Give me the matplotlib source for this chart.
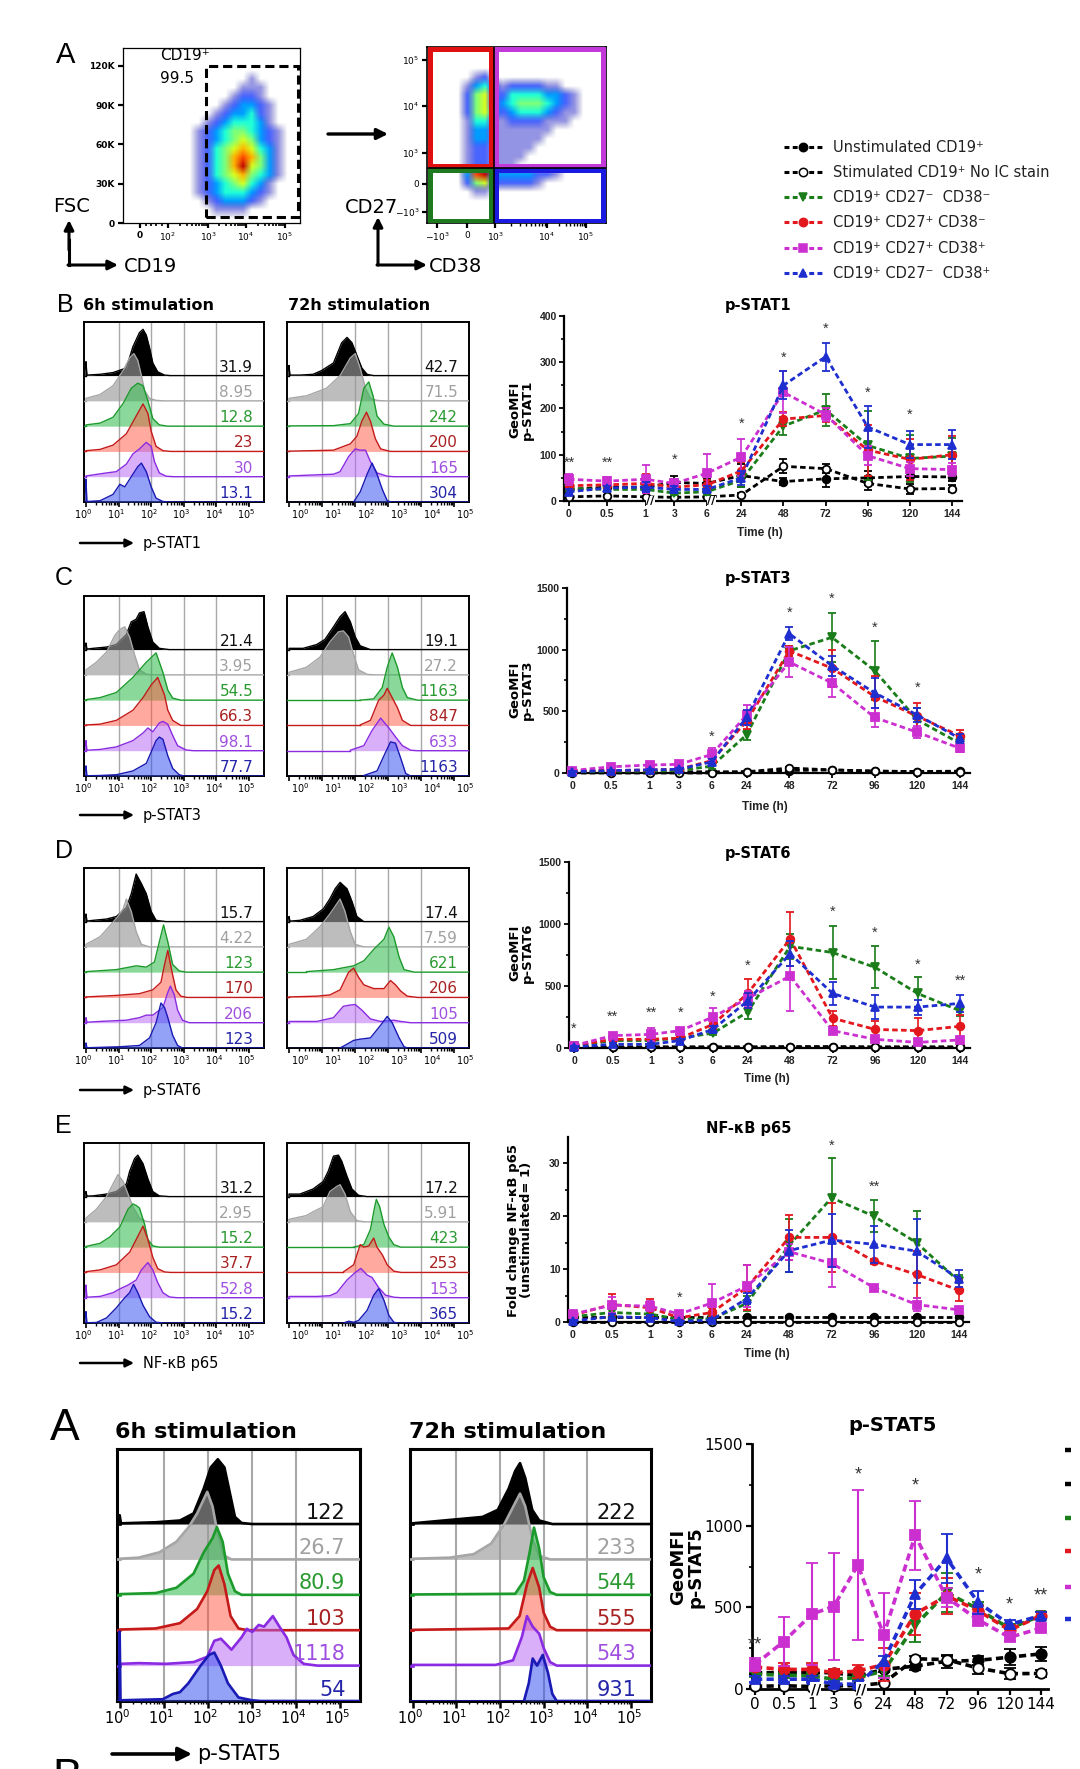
import numpy as np
import matplotlib
matplotlib.use('Agg')
import matplotlib.pyplot as plt
from matplotlib.patches import Rectangle
import matplotlib.transforms as mtransforms

# ---------------------------------------------------------------- data
TIMES = ['0', '0.5', '1', '3', '6', '24', '48', '72', '96', '120', '144']
GROUPS = ['Unstimulated CD19\u207a', 'Stimulated CD19\u207a No IC stain',
          'CD19\u207a CD27\u207b  CD38\u207b', 'CD19\u207a CD27\u207a CD38\u207b',
          'CD19\u207a CD27\u207a CD38\u207a', 'CD19\u207a CD27\u207b  CD38\u207a']

# GeoMFI means / SEM, rows = groups in GROUPS order
STAT1_MEAN = [[25, 30, 30, 40, 38, 55, 42, 48, 50, 53, 52],
              [9, 11, 9, 8, 9, 13, 75, 70, 38, 26, 27],
              [27, 25, 25, 17, 20, 45, 162, 197, 120, 92, 97],
              [33, 35, 38, 30, 35, 65, 177, 185, 110, 90, 100],
              [47, 43, 47, 38, 60, 95, 235, 187, 98, 70, 68],
              [20, 28, 30, 25, 25, 50, 250, 312, 160, 122, 122]]
STAT1_SEM = [[5, 5, 5, 15, 10, 25, 8, 18, 15, 10, 8],
             [3, 3, 2, 2, 2, 5, 15, 10, 15, 10, 8],
             [5, 5, 8, 5, 8, 15, 20, 35, 75, 50, 40],
             [8, 8, 20, 10, 10, 20, 15, 15, 55, 45, 40],
             [12, 8, 30, 10, 42, 40, 45, 15, 20, 15, 15],
             [5, 5, 10, 8, 8, 15, 30, 30, 45, 30, 32]]
STAT1_STARS = [(0, '**', 82), (1, '**', 82), (3, '*', 90), (5, '*', 167),
               (6, '*', 310), (7, '*', 373), (8, '*', 234), (9, '*', 186)]

STAT3_MEAN = [[10, 10, 10, 10, 10, 10, 20, 25, 15, 12, 15],
              [0, 0, 0, 0, 0, 10, 40, 25, 15, 12, 10],
              [10, 15, 15, 20, 55, 310, 990, 1100, 830, 430, 240],
              [20, 20, 25, 30, 100, 420, 990, 850, 620, 460, 300],
              [20, 50, 65, 70, 150, 470, 900, 730, 450, 330, 200],
              [10, 20, 25, 30, 90, 450, 1130, 870, 650, 470, 280]]
STAT3_SEM = [[3, 3, 3, 3, 3, 3, 5, 5, 3, 3, 3],
             [2, 2, 2, 2, 2, 3, 8, 5, 3, 3, 3],
             [5, 5, 5, 8, 20, 40, 40, 200, 240, 100, 50],
             [5, 5, 8, 8, 20, 60, 40, 150, 170, 110, 50],
             [5, 10, 10, 10, 50, 80, 120, 110, 80, 50, 30],
             [5, 5, 5, 8, 20, 60, 50, 80, 120, 60, 40]]
STAT3_STARS = [(4, '*', 297), (6, '*', 1297), (7, '*', 1410), (8, '*', 1175), (9, '*', 690)]

STAT6_MEAN = [[10, 10, 10, 10, 10, 10, 12, 12, 10, 10, 10],
              [5, 5, 5, 5, 5, 5, 5, 5, 5, 5, 5],
              [15, 60, 60, 80, 120, 290, 820, 770, 650, 440, 300],
              [20, 70, 70, 80, 190, 440, 880, 240, 150, 140, 175],
              [20, 100, 110, 140, 250, 400, 580, 140, 70, 45, 65],
              [10, 30, 30, 60, 150, 380, 760, 440, 330, 330, 360]]
STAT6_SEM = [[2, 2, 2, 2, 2, 2, 2, 2, 2, 2, 2],
             [2, 2, 2, 2, 2, 2, 2, 2, 2, 2, 2],
             [5, 10, 10, 10, 15, 60, 100, 210, 170, 130, 40],
             [5, 15, 15, 15, 40, 120, 220, 60, 70, 100, 90],
             [5, 20, 50, 20, 70, 60, 280, 20, 20, 15, 20],
             [5, 10, 10, 10, 30, 60, 100, 90, 100, 60, 70]]
STAT6_STARS = [(0, '*', 153), (1, '**', 250), (2, '**', 288), (3, '*', 288), (4, '*', 417),
               (5, '*', 664), (7, '*', 1102), (8, '*', 927), (9, '*', 672), (10, '**', 546)]

NFKB_MEAN = [[1, 1, 1, 1, 1, 1, 1, 1, 1, 1, 1],
             [0, 0, 0, 0, 0, 0, 0, 0, 0, 0, 0],
             [1.0, 1.8, 1.5, 0.5, 0.6, 3.5, 14.5, 23.5, 20, 15, 7.7],
             [1.3, 3.3, 2.7, 0.8, 1.8, 6.5, 16, 16, 11.5, 9, 6],
             [1.5, 3.2, 3.0, 1.5, 3.6, 6.8, 13.3, 11.1, 6.5, 3.3, 2.3],
             [0.2, 1.0, 0.8, 0.1, 0.4, 4.4, 13.5, 15.5, 14.7, 13.4, 8.2]]
NFKB_SEM = [[0.1] * 11,
            [0.1] * 11,
            [0.3, 0.8, 0.8, 0.3, 0.3, 1.5, 5, 7.6, 3, 6, 1.2],
            [0.3, 2, 1.6, 0.3, 0.8, 4.3, 4.2, 6.5, 0.5, 4.5, 2],
            [0.3, 1.5, 1.0, 0.4, 3.6, 4.0, 1.5, 4.5, 0.5, 1.3, 0.6],
            [0.2, 0.5, 0.5, 0.2, 0.3, 1.0, 4.0, 5.0, 3.5, 6.0, 1.6]]
NFKB_STARS = [(3, '*', 4.6), (7, '*', 33.4), (8, '**', 25.6)]

STAT5_MEAN = [[100, 100, 100, 100, 80, 120, 140, 170, 175, 195, 215],
              [16, 20, 15, 20, 20, 37, 185, 180, 128, 94, 95],
              [90, 85, 80, 60, 70, 110, 390, 590, 490, 370, 450],
              [134, 120, 120, 100, 110, 150, 460, 570, 480, 360, 450],
              [150, 290, 460, 505, 760, 330, 940, 560, 424, 316, 373],
              [60, 60, 60, 30, 30, 170, 580, 800, 530, 395, 450]]
STAT5_SEM = [[10, 10, 10, 25, 15, 15, 25, 40, 30, 50, 45],
             [5, 5, 5, 5, 5, 8, 20, 20, 35, 35, 20],
             [15, 15, 15, 15, 15, 30, 100, 120, 40, 30, 20],
             [20, 40, 40, 20, 40, 100, 130, 110, 30, 30, 20],
             [40, 150, 310, 330, 460, 260, 210, 60, 40, 25, 20],
             [20, 20, 20, 20, 20, 30, 90, 150, 70, 30, 20]]
STAT5_STARS = [(0, '**', 271), (4, '*', 1310), (6, '*', 1243), (8, '*', 699),
               (9, '*', 516), (10, '**', 570)]

# flow histograms: (log10 intensity, height in row units), rows top->bottom
STAT1_6H_HIST = [
    [(0, .55), (.03, .02), (.43, .05), (.83, .12), (1.24, .3), (1.44, 1.14), (1.64, 1.7), (1.75, 1.83), (1.85, 1.6), (1.95, 1.1), (2.05, .5), (2.2, .15), (2.41, .02), (2.6, 0)],
    [(0, .1), (.43, .25), (.83, .6), (1.14, 1.2), (1.34, 1.7), (1.47, 1.87), (1.59, 1.6), (1.7, 1.0), (1.8, .4), (1.95, .1), (2.15, .02), (2.4, 0)],
    [(0, .05), (.43, .12), (.83, .35), (1.14, .9), (1.39, 1.5), (1.59, 1.7), (1.75, 1.6), (1.9, 1.0), (2.05, .3), (2.25, .05), (2.5, 0)],
    [(0, .03), (.43, .08), (.83, .25), (1.24, .7), (1.54, 1.4), (1.75, 1.88), (1.9, 1.5), (2.0, .8), (2.15, .2), (2.36, .03), (2.6, 0)],
    [(0, .03), (.63, .15), (.93, .2), (1.24, .5), (1.44, .9), (1.64, 1.1), (1.85, 1.36), (2.0, 1.2), (2.1, .6), (2.25, .15), (2.46, .02), (2.7, 0)],
    [(0, .9), (.03, .02), (.43, .05), (.83, .3), (1.04, .7), (1.19, .6), (1.39, 1.0), (1.59, 1.4), (1.7, 1.54), (1.85, 1.2), (2.0, .6), (2.15, .15), (2.36, .02), (2.6, 0)]]
STAT1_72H_HIST = [
    [(0, .4), (.03, .02), (.33, .02), (.73, .05), (.99, .2), (1.35, .5), (1.6, 1.3), (1.76, 1.51), (1.91, 1.3), (2.06, .8), (2.21, .3), (2.37, .05), (2.57, 0)],
    [(0, .1), (.53, .2), (1.14, .5), (1.55, 1.0), (1.86, 1.7), (2.01, 1.87), (2.16, 1.3), (2.32, .5), (2.47, .1), (2.67, .02), (2.9, 0)],
    [(0, .01), (1.35, .02), (1.86, .1), (2.11, .5), (2.27, 1.5), (2.42, 1.75), (2.55, 1.2), (2.67, .4), (2.88, .08), (3.18, 0)],
    [(0, .01), (.33, .02), (1.35, .05), (1.86, .3), (2.06, .6), (2.21, 1.2), (2.35, 1.55), (2.47, 1.2), (2.62, .5), (2.78, .1), (3.08, 0)],
    [(0, .03), (1.35, .1), (1.55, .2), (1.81, .8), (2.01, 1.1), (2.16, 1.05), (2.32, 1.05), (2.47, .6), (2.67, .15), (2.98, .02), (3.2, 0)],
    [(1.96, 0), (2.16, .4), (2.37, 1.1), (2.52, 1.54), (2.67, 1.1), (2.83, .5), (2.98, .05), (3.1, 0)]]
STAT3_6H_HIST = [
    [(0, .26), (.03, .02), (.22, .05), (.63, .1), (.93, .2), (1.24, .6), (1.39, 1.1), (1.54, 1.2), (1.64, 1.45), (1.78, 1.5), (1.9, .9), (2.05, .3), (2.25, .05), (2.56, 0)],
    [(0, .2), (.32, .5), (.63, .9), (.88, 1.55), (1.04, 1.8), (1.19, 1.9), (1.34, 1.5), (1.49, .8), (1.64, .2), (1.85, .03), (2.0, 0)],
    [(0, .02), (.43, .1), (.93, .3), (1.44, .9), (1.85, 1.5), (2.15, 1.87), (2.36, 1.1), (2.51, .4), (2.66, .08), (2.91, 0)],
    [(0, .02), (.43, .05), (.93, .2), (1.44, .6), (1.75, 1.1), (2.0, 1.6), (2.2, 1.9), (2.41, 1.2), (2.51, .6), (2.66, .2), (2.91, 0)],
    [(0, .4), (.03, .02), (.43, .05), (.93, .15), (1.44, .4), (1.75, .7), (1.9, .9), (2.05, .75), (2.25, 1.1), (2.36, 1.16), (2.51, 1.05), (2.66, .6), (2.81, .2), (3.07, .03), (3.3, 0)],
    [(0, .4), (.03, .01), (.43, .02), (.93, .05), (1.44, .2), (1.85, .5), (2.05, 1.1), (2.15, 1.4), (2.25, 1.54), (2.36, 1.45), (2.51, .8), (2.66, .3), (2.86, .05), (3.0, 0)]]
STAT3_72H_HIST = [
    [(0, .05), (.43, .05), (.84, .2), (1.09, .4), (1.35, .9), (1.55, 1.3), (1.7, 1.5), (1.86, 1.1), (2.01, .5), (2.16, .15), (2.47, 0)],
    [(0, .1), (.53, .3), (.94, .7), (1.24, 1.3), (1.5, 1.7), (1.65, 1.74), (1.81, 1.5), (1.96, .8), (2.11, .2), (2.37, .02), (2.6, 0)],
    [(2.16, 0), (2.57, .05), (2.83, .5), (2.98, 1.3), (3.13, 1.87), (3.29, 1.3), (3.44, .5), (3.59, .1), (3.9, 0)],
    [(2.16, .02), (2.47, .2), (2.72, 1.0), (2.88, 1.2), (2.98, 1.47), (3.13, 1.1), (3.29, .7), (3.44, .2), (3.69, 0)],
    [(1.86, .02), (2.27, .2), (2.52, .8), (2.78, 1.29), (3.03, .9), (3.23, .55), (3.44, .2), (3.69, .02), (3.9, 0)],
    [(2.27, .02), (2.67, .2), (2.88, .8), (3.08, 1.35), (3.23, 1.3), (3.39, .7), (3.54, .1), (3.69, 0)]]
STAT6_6H_HIST = [
    [(0, .3), (.03, .02), (.22, .05), (.63, .1), (.93, .2), (1.24, .55), (1.39, 1.1), (1.54, 1.88), (1.7, 1.5), (1.85, 1.1), (2.0, .4), (2.15, .05), (2.46, 0)],
    [(0, .1), (.43, .4), (.78, .9), (.98, 1.2), (1.14, 1.5), (1.24, 1.89), (1.39, 1.4), (1.54, .6), (1.7, .1), (1.95, 0)],
    [(0, .02), (.93, .1), (1.54, .25), (1.85, .2), (2.1, .4), (2.25, 1.2), (2.38, 1.87), (2.51, 1.2), (2.66, .3), (2.86, .05), (3.07, 0)],
    [(0, .02), (.93, .08), (1.64, .15), (2.05, .3), (2.3, .6), (2.41, 1.3), (2.51, 1.86), (2.64, 1.0), (2.76, .3), (2.91, .05), (3.1, 0)],
    [(0, .2), (.03, .02), (.43, .05), (1.24, .1), (1.64, .2), (1.85, .3), (2.05, .3), (2.36, .6), (2.51, 1.2), (2.59, 1.45), (2.71, 1.1), (2.81, .5), (2.96, .1), (3.17, 0)],
    [(0, .2), (.03, .01), (1.04, .05), (1.64, .1), (1.95, .4), (2.15, 1.0), (2.3, 1.78), (2.41, 1.6), (2.51, 1.2), (2.66, .5), (2.81, .1), (2.96, 0)]]
STAT6_72H_HIST = [
    [(0, .2), (.03, .02), (.33, .05), (.73, .2), (1.04, .5), (1.24, .9), (1.4, 1.3), (1.55, 1.55), (1.76, 1.3), (1.91, .8), (2.06, .2), (2.27, 0)],
    [(0, .1), (.53, .3), (.94, .8), (1.24, 1.3), (1.45, 1.7), (1.55, 1.89), (1.7, 1.4), (1.86, .6), (2.01, .1), (2.27, 0)],
    [(.53, .02), (1.35, .1), (1.96, .25), (2.27, .45), (2.57, .9), (2.88, 1.3), (3.03, 1.78), (3.18, 1.4), (3.34, .6), (3.49, .1), (3.8, 0)],
    [(0, .02), (.84, .05), (1.24, .1), (1.55, .3), (1.81, 1.0), (1.96, 1.16), (2.11, .8), (2.27, .5), (2.57, .35), (2.88, .35), (3.08, .67), (3.23, .5), (3.39, .25), (3.59, .05), (3.9, 0)],
    [(0, .05), (.84, .05), (1.35, .2), (1.65, .65), (1.86, .7), (2.01, .72), (2.21, .5), (2.47, .15), (2.78, .05), (3.18, .1), (3.39, .05), (3.69, 0)],
    [(1.55, 0), (1.76, .15), (1.96, .3), (2.16, .35), (2.47, .4), (2.78, .9), (2.98, 1.25), (3.13, 1.0), (3.34, .4), (3.49, .05), (3.6, 0)]]
NFKB_6H_HIST = [
    [(0, .2), (.03, .02), (.22, .03), (.63, .1), (.93, .2), (1.24, .5), (1.34, 1.0), (1.49, 1.5), (1.59, 1.64), (1.75, 1.3), (1.9, .7), (2.05, .2), (2.25, .03), (2.56, 0)],
    [(0, .15), (.32, .5), (.63, 1.0), (.83, 1.5), (.98, 1.87), (1.14, 1.6), (1.29, 1.1), (1.44, .6), (1.64, .15), (1.85, .02), (2.0, 0)],
    [(0, .03), (.43, .15), (.73, .4), (1.04, .8), (1.29, 1.5), (1.44, 1.71), (1.54, 1.65), (1.64, 1.55), (1.8, .9), (1.9, .3), (2.05, .05), (2.25, 0)],
    [(0, .03), (.43, .1), (.93, .3), (1.34, .8), (1.54, 1.3), (1.75, 1.83), (1.9, 1.3), (2.05, .6), (2.2, .15), (2.41, .02), (2.6, 0)],
    [(0, .5), (.03, .02), (.43, .05), (.83, .2), (1.04, .35), (1.29, .5), (1.54, .7), (1.7, 1.1), (1.9, 1.39), (2.05, 1.1), (2.2, .6), (2.36, .2), (2.56, .03), (2.8, 0)],
    [(0, .45), (.03, .01), (.32, .02), (.63, .2), (.93, .6), (1.19, 1.0), (1.34, 1.2), (1.46, 1.53), (1.59, 1.2), (1.75, .7), (1.95, .25), (2.15, .03), (2.4, 0)]]
NFKB_72H_HIST = [
    [(0, .1), (.33, .1), (.73, .3), (1.04, .6), (1.19, 1.0), (1.35, 1.6), (1.5, 1.64), (1.6, 1.4), (1.76, .8), (1.91, .3), (2.11, .05), (2.37, 0)],
    [(0, .1), (.53, .25), (.73, .4), (1.04, .6), (1.24, 1.2), (1.45, 1.4), (1.55, 1.47), (1.7, 1.1), (1.86, .4), (2.06, .05), (2.3, 0)],
    [(1.96, 0), (2.27, .1), (2.47, .7), (2.6, 1.6), (2.65, 1.89), (2.75, 1.6), (2.88, .9), (3.03, .4), (3.18, .1), (3.39, 0)],
    [(1.65, .02), (1.96, .3), (2.16, 1.1), (2.27, 1.0), (2.42, 1.05), (2.57, 1.36), (2.67, 1.0), (2.83, .7), (2.98, .3), (3.18, .05), (3.4, 0)],
    [(0, .05), (.84, .05), (1.24, .08), (1.45, .2), (1.76, .7), (2.01, 1.0), (2.18, 1.16), (2.37, .9), (2.52, .8), (2.72, .4), (2.93, .1), (3.18, .02), (3.4, 0)],
    [(1.65, 0), (1.81, .07), (1.96, .03), (2.11, .1), (2.37, .5), (2.57, 1.1), (2.72, 1.36), (2.88, .9), (3.03, .3), (3.18, .03), (3.3, 0)]]
STAT5_6H_HIST = [
    [(0, .25), (.03, .02), (.82, .05), (1.37, .1), (1.68, .3), (1.91, 1.0), (2.07, 1.6), (2.23, 1.83), (2.38, 1.6), (2.5, .9), (2.62, .2), (2.77, .03), (3.01, 0)],
    [(0, .02), (.43, .05), (.9, .2), (1.29, .5), (1.56, .9), (1.76, 1.3), (1.91, 1.7), (1.99, 1.91), (2.11, 1.5), (2.23, .7), (2.38, .1), (2.54, 0)],
    [(0, .02), (.82, .05), (1.29, .2), (1.68, .6), (1.91, 1.2), (2.11, 1.6), (2.21, 1.91), (2.34, 1.5), (2.46, .6), (2.62, .1), (2.77, 0)],
    [(0, .02), (.82, .05), (1.37, .2), (1.76, .6), (1.99, 1.1), (2.15, 1.7), (2.25, 1.83), (2.38, 1.3), (2.52, .4), (2.7, .05), (2.9, 0)],
    [(0, .05), (.43, .07), (1.05, .05), (1.68, .1), (1.99, .25), (2.15, .7), (2.3, .76), (2.54, .45), (2.77, .8), (2.89, 1.04), (3.01, .95), (3.16, 1.15), (3.28, 1.1), (3.48, 1.4), (3.63, 1.1), (3.79, .8), (3.95, .3), (4.18, .05), (4.49, 0)],
    [(0, 1.96), (.02, .02), (.98, .05), (1.21, .2), (1.37, .25), (1.56, .5), (1.84, 1.0), (2.03, 1.3), (2.15, 1.37), (2.3, 1.0), (2.46, .5), (2.7, .1), (3.01, .02), (3.2, 0)]]
STAT5_72H_HIST = [
    [(0, .02), (1.6, .2), (1.95, .4), (2.2, 1.0), (2.35, 1.5), (2.46, 1.72), (2.58, 1.3), (2.74, .4), (2.9, .1), (3.2, 0)],
    [(0, .02), (.85, .05), (1.4, .15), (1.8, .45), (2.1, 1.0), (2.35, 1.6), (2.46, 1.86), (2.58, 1.5), (2.74, .6), (2.9, .1), (3.15, 0)],
    [(0, .01), (2.35, .03), (2.55, .4), (2.68, 1.2), (2.78, 1.9), (2.9, 1.3), (3.0, .5), (3.15, .08), (3.3, 0)],
    [(0, .01), (2.2, .05), (2.45, .4), (2.62, 1.3), (2.75, 1.76), (2.9, 1.2), (3.0, .5), (3.15, .1), (3.3, 0)],
    [(0, .02), (1.9, .02), (2.3, .15), (2.5, .8), (2.62, 1.4), (2.75, 1.1), (2.9, .9), (3.0, .5), (3.15, .1), (3.3, 0)],
    [(2.55, 0), (2.66, .5), (2.75, 1.2), (2.85, 1.0), (2.98, 1.3), (3.1, .8), (3.2, .2), (3.3, 0)]]

STAT1_6H_MFI = ['31.9', '8.95', '12.8', '23', '30', '13.1']
STAT1_72H_MFI = ['42.7', '71.5', '242', '200', '165', '304']
STAT3_6H_MFI = ['21.4', '3.95', '54.5', '66.3', '98.1', '77.7']
STAT3_72H_MFI = ['19.1', '27.2', '1163', '847', '633', '1163']
STAT6_6H_MFI = ['15.7', '4.22', '123', '170', '206', '123']
STAT6_72H_MFI = ['17.4', '7.59', '621', '206', '105', '509']
NFKB_6H_MFI = ['31.2', '2.95', '15.2', '37.7', '52.8', '15.2']
NFKB_72H_MFI = ['17.2', '5.91', '423', '253', '153', '365']
STAT5_6H_MFI = ['122', '26.7', '80.9', '103', '1118', '54']
STAT5_72H_MFI = ['222', '233', '544', '555', '543', '931']

# gating dot plots: density levels (0 = empty .. 9 = densest), rows top->bottom
CD19_DENSITY = ['00000000000000000000', '00000000000000000000', '00000000000000000000',
                '00000000000000100000', '00000000000001110000', '00000000000012210000',
                '00000000000123321000', '00000000001233421000', '00000000012344431000',
                '00000000123455432100', '00000000123456532100', '00000000124567643100',
                '00000000124578753100', '00000000124579653100', '00000000124567543100',
                '00000000123456431000', '00000000123444321000', '00000000012333210000',
                '00000000001111000000', '00000000000000000000']
CD27_CD38_DENSITY = ['00000000000000000000', '00000000000000000000', '00000000000000000000',
                     '00000120000000000000', '00001342122221100000', '00002562244443321000',
                     '00002562345554321000', '00002563234443211000', '00001441122221110000',
                     '00001331111111000000', '00001331111110000000', '00001221111100000000',
                     '00001221111000000000', '00001221110000000000', '00003893333322100000',
                     '00002562222210000000', '00000110000000000000', '00000000000000000000',
                     '00000000000000000000', '00000000000000000000']
CD19_GATE_PCT = '99.5'

# ---------------------------------------------------------------- layout / style
TIME_POS = [0, 1, 2, 2.75, 3.6, 4.5, 5.6, 6.7, 7.8, 8.9, 10]  # broken time axis
GROUP_COLORS = ['#000000', '#000000', '#1a7d1a', '#e3171e', '#cc2fd0', '#1f2ecf']
GROUP_MARKERS = ['o', 'o', 'v', 'o', 's', '^']
GROUP_FACE = ['#000000', '#ffffff', '#1a7d1a', '#e3171e', '#cc2fd0', '#1f2ecf']
HIST_STYLE = [('#000000', '#000000', 1.0, '#111111'),
              ('#a6a6a6', '#9a9a9a', 0.65, '#a0a0a0'),
              ('#1c9a2c', '#2db84a', 0.55, '#2a9a30'),
              ('#c41a1a', '#ff5540', 0.5, '#a82020'),
              ('#8a2be2', '#b660f7', 0.5, '#a050e0'),
              ('#1a1ab4', '#3a55f0', 0.55, '#2424a8')]
NARROW = ['Liberation Sans Narrow', 'DejaVu Sans']
ARIAL = ['Liberation Sans', 'DejaVu Sans']
VERDANA = ['DejaVu Sans']

W, H = 1080, 1769
fig = plt.figure(figsize=(W / 100, H / 100), dpi=100)
fig.patch.set_facecolor('white')


def px_axes(x0, y0, x1, y1):
    return fig.add_axes([x0 / W, 1 - y1 / H, (x1 - x0) / W, (y1 - y0) / H])


# overlay in pixel coordinates for labels and arrows
ov = fig.add_axes([0, 0, 1, 1], zorder=20)
ov.set_xlim(0, W)
ov.set_ylim(H, 0)
ov.axis('off')
ov.patch.set_visible(False)


def arrow(x0, y0, x1, y1, lw=2.2, ms=14):
    ov.annotate('', xy=(x1, y1), xytext=(x0, y0),
                arrowprops=dict(arrowstyle='-|>', lw=lw, color='black',
                                mutation_scale=ms, shrinkA=0, shrinkB=0))


def log_minor(major):
    out = []
    for a, b in zip(major[:-1], major[1:]):
        out += [a + (b - a) * np.log10(k) for k in range(2, 10)]
    return out


def density_plot(ax, rows, ymax):
    grid = np.array([[int(c) for c in r] for r in rows], dtype=float)
    rgba = plt.get_cmap('jet')(np.clip((grid - 0.5) / 9.0, 0, 1))
    rgba[..., 3] = np.clip(grid * 0.3 + 0.12, 0, 1) * (grid > 0)
    ax.imshow(rgba, extent=(0, 1, 0, ymax), origin='upper', aspect='auto',
              interpolation='bilinear', zorder=1)


# ---------------------------------------------------------------- panel A (gating)
ax1 = px_axes(122.5, 48, 300, 223)
ax1.set_xlim(0, 1)
ax1.set_ylim(0, 133.6)
density_plot(ax1, CD19_DENSITY, 133.6)
ax1.add_patch(Rectangle((0.47, 4.5), 0.52, 115.5, fill=False, ec='black', lw=2.2,
                        ls=(0, (3, 1.6)), zorder=3))
ax1.set_yticks([0, 30, 60, 90, 120])
ax1.set_yticklabels(['0', '30K', '60K', '90K', '120K'])
fsc_major = [0.254, 0.482, 0.696, 0.915]
ax1.set_xticks([0.099] + fsc_major)
ax1.set_xticklabels(['0', '$10^2$', '$10^3$', '$10^4$', '$10^5$'])
ax1.set_xticks(log_minor(fsc_major) + [0.13, 0.16, 0.19, 0.22], minor=True)
ax1.tick_params(labelsize=6.5, width=1.6, length=3.5, pad=2)
ax1.tick_params(which='minor', length=2.5, width=1.2)
for lab in ax1.get_yticklabels() + ax1.get_xticklabels():
    lab.set_family(NARROW)
    lab.set_fontweight('bold')
for s in ax1.spines.values():
    s.set_linewidth(0.9)
ov.text(160, 55, 'CD19\u207a', fontsize=11, family=NARROW, va='center')
ov.text(160, 78, CD19_GATE_PCT, fontsize=11, family=NARROW, va='center')

ax2 = px_axes(427, 47, 606, 223)
ax2.set_xlim(0, 1)
ax2.set_ylim(0, 1)
density_plot(ax2, CD27_CD38_DENSITY, 1)
qx, qy = 0.374, 0.3125
inset = 0.014
for (x0, y0, x1, y1), col in [((0, qy, qx, 1), '#e01010'), ((qx, qy, 1, 1), '#c238d8'),
                              ((0, 0, qx, qy), '#1e7a1e'), ((qx, 0, 1, qy), '#1a1ae0')]:
    ax2.add_patch(Rectangle((x0 + inset, y0 + inset), x1 - x0 - 2 * inset, y1 - y0 - 2 * inset,
                            fill=False, ec=col, lw=3.6, zorder=3))
ax2.axvline(qx, color='black', lw=1.2, zorder=4)
ax2.axhline(qy, color='black', lw=1.2, zorder=4)
cd38_major = [0.38, 0.67, 0.888]
ax2.set_xticks([0.056, 0.226] + cd38_major)
ax2.set_xticklabels(['$-10^3$', '0', '$10^3$', '$10^4$', '$10^5$'])
ax2.set_xticks(log_minor(cd38_major), minor=True)
cd27_major = [0.398, 0.665, 0.926]
ax2.set_yticks([0.0625, 0.222] + cd27_major)
ax2.set_yticklabels(['$-10^3$', '0', '$10^3$', '$10^4$', '$10^5$'])
ax2.set_yticks(log_minor(cd27_major), minor=True)
ax2.tick_params(labelsize=6.5, width=1.6, length=3.5, pad=2)
ax2.tick_params(which='minor', length=2, width=1.0)
ax2.tick_params(axis='y', which='minor', length=0)
for s in ax2.spines.values():
    s.set_linewidth(1.2)

ov.text(56, 55, 'A', fontsize=21, family=ARIAL, va='center')
ov.text(53, 206, 'FSC', fontsize=14, family=NARROW, va='center')
ov.plot([69, 69], [265, 240], color='black', lw=2.2)
arrow(69, 250, 69, 220)
arrow(68, 265, 118, 265)
ov.text(124, 266, 'CD19', fontsize=14, family=NARROW, va='center')
arrow(328, 134, 388, 134, lw=2.4, ms=16)
ov.text(345, 207, 'CD27', fontsize=14, family=NARROW, va='center')
arrow(378, 265, 378, 217)
arrow(377, 265, 427, 265)
ov.text(429, 266, 'CD38', fontsize=14, family=NARROW, va='center')

# legend (top right)
leg_y = [147, 172, 197, 222, 248, 273]
for g, y in enumerate(leg_y):
    ov.plot([784, 822], [y, y], color=GROUP_COLORS[g], lw=2.2, ls=(0, (1.6, 1.1)))
    ov.plot([803], [y], marker=GROUP_MARKERS[g], ms=6, color=GROUP_COLORS[g],
            mfc=GROUP_FACE[g], mec=GROUP_COLORS[g], mew=1.1)
    ov.text(833, y, GROUPS[g], fontsize=10.5, family=NARROW, va='center', color='#222222')


# ---------------------------------------------------------------- histograms
def hist_box(x0, y0, x1, y1, hists, mfi, shift, big=False):
    ax = px_axes(x0, y0, x1, y1)
    xmin, xmax = -0.06, 5.46
    ax.set_xlim(xmin, xmax)
    ax.set_ylim(0, 7.12)
    lw = 1.9 if big else 1.0
    for d in (1, 2, 3, 4):
        ax.axvline(d, color='#a8a8a8', lw=1.5 if big else 1.0, zorder=0)
    for k, pts in enumerate(hists):
        base = 5 - k
        line_c, fill_c, alpha, txt_c = HIST_STYLE[k]
        xs = [pts[0][0]] + [p[0] for p in pts] + [xmax]
        ys = [base] + [base + p[1] for p in pts] + [base]
        ax.fill_between(xs, base, ys, color=fill_c, alpha=alpha, lw=0, zorder=2 + k)
        ax.plot(xs, ys, color=line_c, lw=lw, zorder=2.5 + k)
        ax.plot([xmin, pts[0][0]], [base, base], color=line_c, lw=lw, zorder=2.5 + k)
        ax.text(5.13, base + 0.04, mfi[k], ha='right', va='bottom', color=txt_c,
                fontsize=15 if big else 11, family=VERDANA, zorder=10)
    ax.set_xticks(range(6))
    ax.set_xticklabels([])
    ax.set_xticks(log_minor(list(range(6))), minor=True)
    ax.set_yticks([])
    ax.tick_params(axis='x', direction='out', length=5 if big else 3.5, width=1.8 if big else 1.2)
    ax.tick_params(axis='x', which='minor', length=2.5 if big else 1.8, width=1.0)
    for d in range(6):
        ax.text(d + shift, -0.03, '$10^{%d}$' % d, transform=ax.get_xaxis_transform(),
                ha='center', va='top', fontsize=10.5 if big else 7)
    for s in ax.spines.values():
        s.set_linewidth(2.2 if big else 1.4)
    return ax


def line_chart(px0, px144, py0, pytop, ymax, yticks, means, sems, stars, big=False, breaks=False):
    xl, xr = -0.12, 10.25
    sx = (px144 - px0) / 10.0
    ax = px_axes(px0 + xl * sx, pytop, px0 + xr * sx, py0)
    ax.set_xlim(xl, xr)
    ax.set_ylim(0, ymax)
    for g in range(6):
        c = GROUP_COLORS[g]
        cont = ax.errorbar(TIME_POS, means[g], yerr=sems[g], color=c, ecolor=c,
                           marker=GROUP_MARKERS[g], mfc=GROUP_FACE[g], mec=c,
                           ms=7.5 if big else 5.5, mew=1.3, lw=2.6 if big else 2.0,
                           ls=(0, (2.0, 1.2)), elinewidth=1.5 if big else 1.2,
                           capsize=4 if big else 3, capthick=1.5 if big else 1.2, zorder=3 + g)
        for art in cont.get_children():
            art.set_clip_on(False)
    for i, txt, y in stars:
        ax.text(TIME_POS[i], y, txt, ha='center', va='center', color='#333333',
                fontsize=13 if big else 10.5, family=ARIAL)
    ax.spines[['top', 'right']].set_visible(False)
    for s in ('left', 'bottom'):
        ax.spines[s].set_linewidth(2.0 if big else 1.6)
    ax.set_yticks(yticks)
    ax.set_yticks([(a + b) / 2 for a, b in zip(yticks[:-1], yticks[1:])], minor=True)
    ax.set_xticks(TIME_POS)
    if big:
        ax.set_yticklabels([str(v) for v in yticks], fontsize=11, family=VERDANA)
        ax.set_xticklabels(TIMES, fontsize=11, family=VERDANA)
    else:
        ax.set_yticklabels([str(v) for v in yticks], fontsize=7.5, family=ARIAL,
                           fontweight='bold', color='#222222')
        ax.set_xticklabels(TIMES, fontsize=7.5, family=ARIAL, fontweight='bold', color='#222222')
    ax.tick_params(direction='out', length=4 if big else 3.5, width=1.6 if big else 1.3, pad=2)
    ax.tick_params(which='minor', length=2.5, width=1.2)
    if breaks:
        tr = mtransforms.blended_transform_factory(ax.transData, ax.transAxes)
        for i in (2, 4):
            ax.text(TIME_POS[i] + 0.12, 0, '//', transform=tr, ha='center', va='center',
                    fontsize=10 if big else 8, fontweight='bold', zorder=20, clip_on=False,
                    bbox=dict(fc='white', ec='none', pad=0.3))
    return ax


# B - p-STAT1
ov.text(57, 305, 'B', fontsize=18, family=ARIAL, va='center')
ov.text(83, 305, '6h stimulation', fontsize=11.5, family=VERDANA, fontweight='bold', va='center')
ov.text(288, 305, '72h stimulation', fontsize=11.5, family=VERDANA, fontweight='bold', va='center')
hist_box(84, 322, 264, 502, STAT1_6H_HIST, STAT1_6H_MFI, -0.08)
hist_box(287, 322, 469, 502, STAT1_72H_HIST, STAT1_72H_MFI, 0.33)
line_chart(569, 952, 501, 316, 400, [0, 100, 200, 300, 400], STAT1_MEAN, STAT1_SEM, STAT1_STARS,
           breaks=True)

# C - p-STAT3
ov.text(55, 578, 'C', fontsize=18, family=ARIAL, va='center')
hist_box(84, 596, 264, 776, STAT3_6H_HIST, STAT3_6H_MFI, -0.08)
hist_box(287, 596, 469, 776, STAT3_72H_HIST, STAT3_72H_MFI, 0.33)
line_chart(572, 960, 773, 588, 1500, [0, 500, 1000, 1500], STAT3_MEAN, STAT3_SEM, STAT3_STARS)

# D - p-STAT6
ov.text(55, 851, 'D', fontsize=18, family=ARIAL, va='center')
hist_box(84, 868, 264, 1048, STAT6_6H_HIST, STAT6_6H_MFI, -0.08)
hist_box(287, 868, 469, 1048, STAT6_72H_HIST, STAT6_72H_MFI, 0.33)
line_chart(574, 960, 1048, 862, 1500, [0, 500, 1000, 1500], STAT6_MEAN, STAT6_SEM, STAT6_STARS)

# E - NF-kB p65
ov.text(55, 1126, 'E', fontsize=18, family=ARIAL, va='center')
hist_box(84, 1143, 264, 1323, NFKB_6H_HIST, NFKB_6H_MFI, -0.08)
hist_box(287, 1143, 469, 1323, NFKB_72H_HIST, NFKB_72H_MFI, 0.33)
line_chart(573, 959, 1322, 1137, 35, [0, 10, 20, 30], NFKB_MEAN, NFKB_SEM, NFKB_STARS)

for y, name in [(543, 'p-STAT1'), (815, 'p-STAT3'), (1090, 'p-STAT6'), (1363, 'NF-\u03baB p65')]:
    arrow(80, y, 134, y, lw=1.8, ms=12)
    ov.text(143, y, name, fontsize=10.5, family=VERDANA, va='center')

for (tx, ty), title in [((758, 305), 'p-STAT1'), ((758, 578), 'p-STAT3'),
                        ((758, 853), 'p-STAT6'), ((749, 1128), 'NF-\u03baB p65')]:
    ov.text(tx, ty, title, fontsize=10.5, family=VERDANA, fontweight='bold', ha='center', va='center')
for (tx, ty), lab in [((521, 410), 'GeoMFI\np-STAT1'), ((521, 690), 'GeoMFI\np-STAT3'),
                      ((521, 953), 'GeoMFI\np-STAT6'),
                      ((520, 1230), 'Fold change NF-\u03baB p65\n(unstimulated= 1)')]:
    ov.text(tx, ty, lab, fontsize=9.5, family=VERDANA, fontweight='bold', ha='center',
            va='center', rotation=90, multialignment='center', linespacing=1.0)
for tx, ty in [(760, 533), (765, 807), (767, 1079), (767, 1354)]:
    ov.text(tx, ty, 'Time (h)', fontsize=8.5, family=ARIAL, fontweight='bold', ha='center',
            va='center', color='#222222')

# ---------------------------------------------------------------- bottom figure (p-STAT5)
ov.text(50, 1428, 'A', fontsize=32, family=ARIAL, va='center')
ov.text(115, 1432, '6h stimulation', fontsize=16, family=VERDANA, fontweight='bold', va='center')
ov.text(409, 1432, '72h stimulation', fontsize=16, family=VERDANA, fontweight='bold', va='center')
hist_box(117, 1449, 360, 1701, STAT5_6H_HIST, STAT5_6H_MFI, -0.05, big=True)
hist_box(410, 1449, 651, 1701, STAT5_72H_HIST, STAT5_72H_MFI, -0.05, big=True)
arrow(112, 1754, 192, 1754, lw=2.6, ms=20)
ov.text(197, 1754, 'p-STAT5', fontsize=15, family=VERDANA, va='center')
ov.text(52, 1758, 'B', fontsize=32, family=ARIAL, va='top')

line_chart(755, 1041, 1689, 1444, 1500, [0, 500, 1000, 1500], STAT5_MEAN, STAT5_SEM, STAT5_STARS,
           big=True, breaks=True)
ov.text(893, 1425, 'p-STAT5', fontsize=14, family=VERDANA, fontweight='bold', ha='center', va='center')
ov.text(687, 1567, 'GeoMFI\np-STAT5', fontsize=13, family=VERDANA, fontweight='bold', ha='center',
        va='center', rotation=90, multialignment='center', linespacing=1.0)
for g, y in enumerate([1450, 1484, 1518, 1551, 1587, 1619]):
    ov.plot([1065, 1071], [y, y], color=GROUP_COLORS[g], lw=3.2, solid_capstyle='butt')

fig.savefig('out.png', dpi=100)
